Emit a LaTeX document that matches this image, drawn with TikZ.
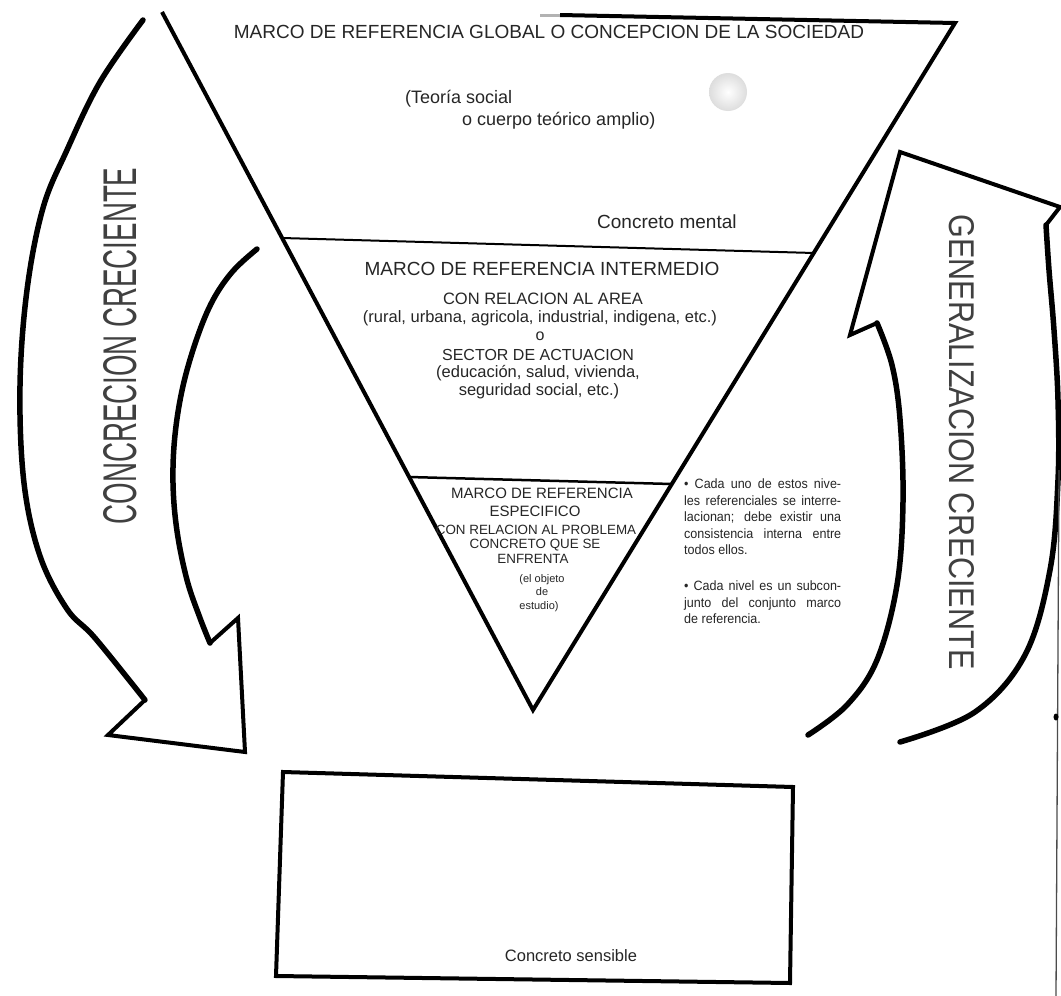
\documentclass[tikz,border=0pt]{standalone}
\usepackage{fontspec}
\usepackage{graphicx}
\setmainfont{Liberation Sans}
\newfontfamily\notefont[FakeStretch=0.93]{Liberation Sans}
\newcommand{\fsz}[2]{\fontsize{#1}{#2}\selectfont}
\begin{document}
\begin{tikzpicture}[x=1pt,y=-1pt,
  side/.style={line width=4pt,line join=miter},
  divider/.style={line width=2pt},
  band/.style={line width=5.5pt,line cap=round},
  barb/.style={line width=4pt,line join=miter,line cap=round},
  lbl/.style={inner sep=0pt,text=black!85},
  note/.style={lbl,anchor=north west,text width=157pt,align=justify,font=\notefont\fsz{13.5}{16.4}},
]
\useasboundingbox (0,0) rectangle (1061,996);
\fill[white] (0,0) rectangle (1061,996);

% inverted triangle of the frames of reference
\coordinate (apex) at (162,12);
\coordinate (tip) at (533,710);
\coordinate (corner) at (955,23);
\coordinate (topend) at (560,15);
\draw[side] (apex) -- (tip) -- (corner) -- (topend);
\draw[line width=3pt,black!30] (topend) -- (540,15);

% level dividers
\coordinate (midL) at (282,238);
\coordinate (midR) at (814,253);
\coordinate (specL) at (409,477);
\coordinate (specR) at (672,484);
\draw[divider] (midL) -- (midR);
\draw[divider,line width=2.5pt] (specL) -- (specR);

% global level
\node[lbl,anchor=base,font=\fsz{19}{22}] (global) at (549,38) {MARCO DE REFERENCIA GLOBAL O CONCEPCION DE LA SOCIEDAD};
\node[lbl,anchor=base west,font=\fsz{18}{21}] (theory1) at (405,103) {(Teoría social};
\node[lbl,anchor=base west,font=\fsz{18}{21}] (theory2) at (462,125) {o cuerpo teórico amplio)};
\node[lbl,anchor=base west,font=\fsz{19}{22}] (mental) at (597,228) {Concreto mental};
\shade[inner color=white,outer color=black!22,opacity=0.6] (728,92) circle (19pt);

% intermediate level
\node[lbl,anchor=base,font=\fsz{19}{22}] (inter) at (542,275) {MARCO DE REFERENCIA INTERMEDIO};
\node[lbl,anchor=base,font=\fsz{16.5}{20}] (area) at (543,304) {CON RELACION AL AREA};
\node[lbl,anchor=base,font=\fsz{16.5}{20}] (areas) at (540,322) {(rural, urbana, agricola, industrial, indigena, etc.)};
\node[lbl,anchor=base,font=\fsz{16}{20}] (either) at (540,340) {o};
\node[lbl,anchor=base,font=\fsz{16}{20}] (sector) at (538,360) {SECTOR DE ACTUACION};
\node[lbl,anchor=base,font=\fsz{16.5}{20}] (sectors1) at (538,377) {(educación, salud, vivienda,};
\node[lbl,anchor=base,font=\fsz{16.5}{20}] (sectors2) at (539,395) {seguridad social, etc.)};

% specific level
\node[lbl,anchor=base,font=\fsz{15}{18}] (spec1) at (542,498) {MARCO DE REFERENCIA};
\node[lbl,anchor=base,font=\fsz{15}{18}] (spec2) at (535,516) {ESPECIFICO};
\node[lbl,anchor=base,font=\fsz{13.4}{16}] (spec3) at (536,534) {CON RELACION AL PROBLEMA};
\node[lbl,anchor=base,font=\fsz{13.4}{16}] (spec4) at (535,548) {CONCRETO QUE SE};
\node[lbl,anchor=base,font=\fsz{13.4}{16}] (spec5) at (533,563) {ENFRENTA};
\node[lbl,anchor=base,font=\fsz{11}{13}] (spec6) at (542,582) {(el objeto};
\node[lbl,anchor=base,font=\fsz{11}{13}] (spec7) at (542,595) {de};
\node[lbl,anchor=base,font=\fsz{11}{13}] (spec8) at (539,609) {estudio)};

% side notes
\node[note] (note1) at (684,479) {• Cada uno de estos nive-\linebreak les referenciales se interre-\linebreak lacionan; debe existir una\linebreak consistencia interna entre\linebreak todos ellos.};
\node[note] (note2) at (684,581) {• Cada nivel es un subcon-\linebreak junto del conjunto marco\linebreak de referencia.};

% sensible concrete box
\coordinate (bTL) at (283,772);
\coordinate (bTR) at (793,787);
\coordinate (bBR) at (790,983);
\coordinate (bBL) at (276,976);
\draw[line width=4pt,line join=miter] (bTL) -- (bTR) -- (bBR) -- (bBL) -- cycle;
\node[lbl,anchor=base,font=\fsz{16.5}{20}] (sensible) at (571,961) {Concreto sensible};

% left arrow: increasing concretion
\draw[band] plot[smooth,tension=0.6] coordinates {(143,20) (100,82) (67,150) (43,208) (27,290) (20,386) (24,483) (40,556) (67,609) (95,638) (145,700)};
\draw[barb] (145,700) -- (108,735) -- (245,752) -- (238,618) -- (210,643);
\draw[band] plot[smooth,tension=0.6] coordinates {(210,643) (200,618) (187,580) (177,531) (173,483) (175,435) (183,386) (197,338) (213,300) (233,271) (257,249)};
\node[lbl,rotate=90,text=black!75] (down) at (120,346) {\resizebox{357pt}{33pt}{CONCRECION CRECIENTE}};

% right arrow: increasing generalization
\draw[band] plot[smooth,tension=0.6] coordinates {(1046,225) (1049,270) (1054,330) (1058,400) (1058,480) (1050,570) (1025,655) (975,712) (900,742)};
\draw[barb] (877,323) -- (850,335) -- (900,152) -- (1060,207) -- (1046,225);
\draw[band] plot[smooth,tension=0.6] coordinates {(877,323) (892,365) (900,419) (903,502) (897,585) (877,660) (847,705) (808,735)};
\node[lbl,rotate=-90,text=black!75] (up) at (962,442) {\resizebox{455pt}{25pt}{GENERALIZACION CRECIENTE}};

% page edge
\draw[line width=1.3pt,black!70] (1059,470) -- (1056,996);
\fill (1056,717) ellipse (2.5pt and 3.5pt);
\end{tikzpicture}
\end{document}
